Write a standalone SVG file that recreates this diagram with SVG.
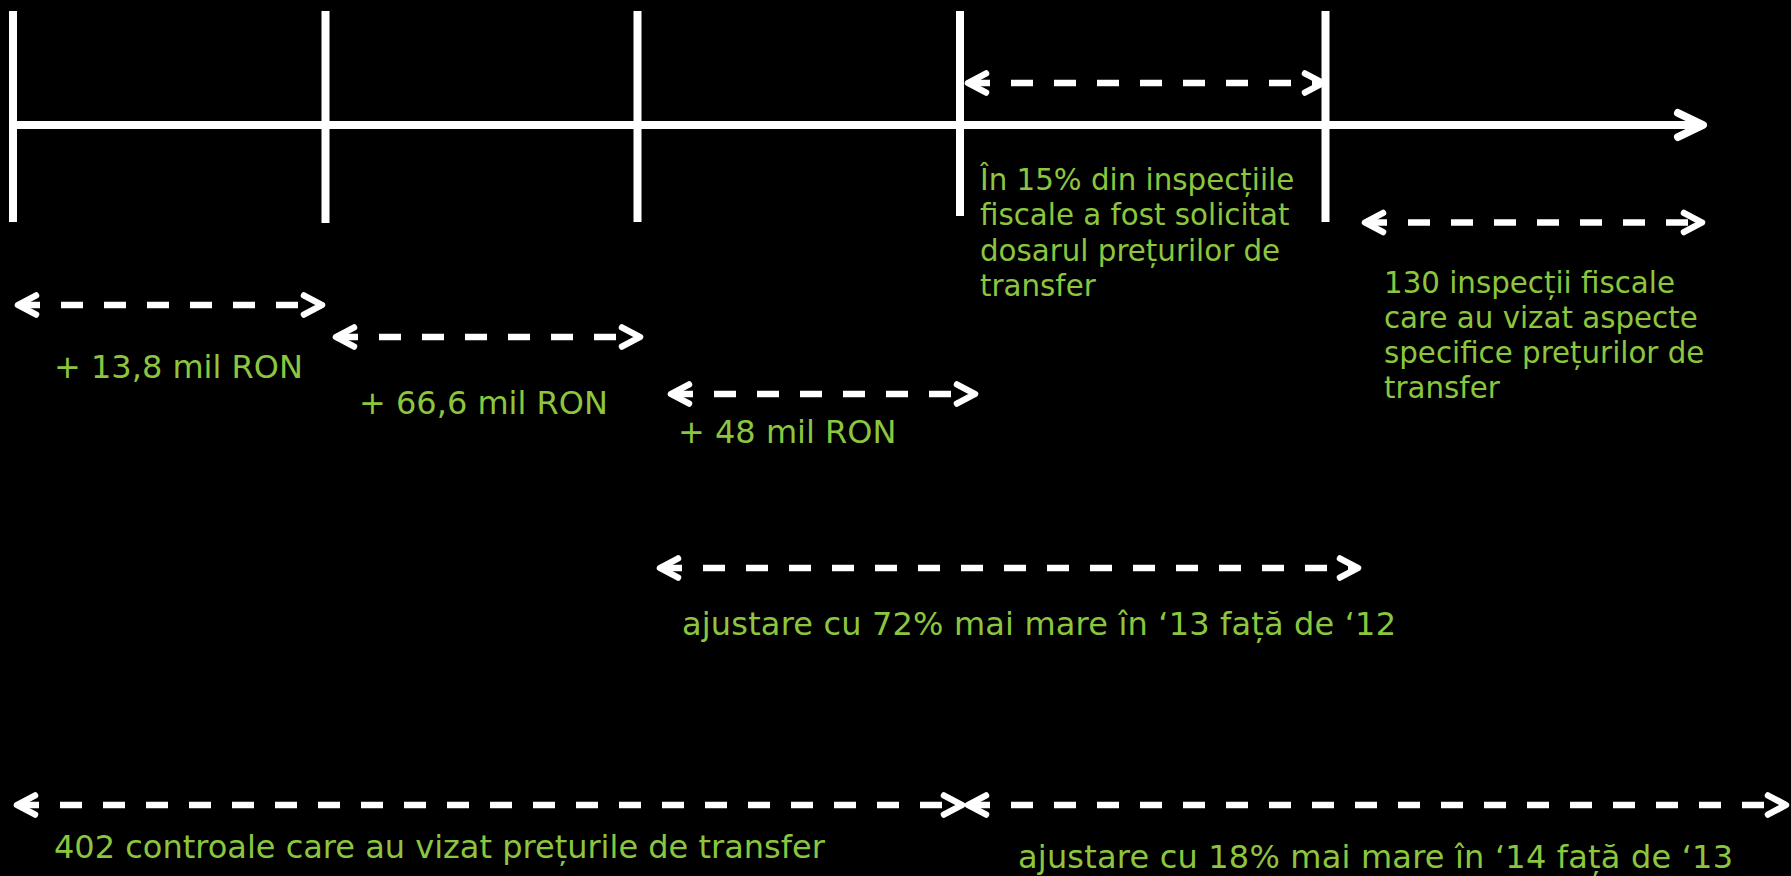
<svg xmlns="http://www.w3.org/2000/svg" width="1791" height="876" viewBox="0 0 1791 876">
  <style>
    .tick { stroke: #FFFFFF; stroke-width: 8; fill: none; }
    .axis { stroke: #FFFFFF; stroke-width: 8; fill: none; }
    .span { stroke: #FFFFFF; stroke-width: 6.5; fill: none; stroke-dasharray: 22 21; marker-start: url(#chevS); marker-end: url(#chevE); }
    .lbl { font-family: "DejaVu Sans", Verdana, sans-serif; font-size: 32px; fill: #8CC63E; }
    .blk { font-size: 29.3px; }
  </style>
  <defs>
    <marker id="chevE" markerUnits="userSpaceOnUse" orient="auto" refX="0" refY="0" markerWidth="40" markerHeight="40" viewBox="-30 -20 40 40" overflow="visible">
      <path d="M -18 -9.5 L 0 0 L -18 9.5" fill="none" stroke="#FFFFFF" stroke-width="6.5" stroke-linecap="round" stroke-linejoin="round"/>
    </marker>
    <marker id="chevS" markerUnits="userSpaceOnUse" orient="auto-start-reverse" refX="0" refY="0" markerWidth="40" markerHeight="40" viewBox="-30 -20 40 40" overflow="visible">
      <path d="M -18 -9.5 L 0 0 L -18 9.5" fill="none" stroke="#FFFFFF" stroke-width="6.5" stroke-linecap="round" stroke-linejoin="round"/>
    </marker>
    <marker id="axisHead" markerUnits="userSpaceOnUse" orient="auto" refX="0" refY="0" markerWidth="50" markerHeight="50" viewBox="-40 -25 50 50" overflow="visible">
      <path d="M -25 -12 L 0 0 L -25 12" fill="none" stroke="#FFFFFF" stroke-width="8" stroke-linecap="round" stroke-linejoin="round"/>
    </marker>
  </defs>
  <rect x="0" y="0" width="1791" height="876" fill="#000000"/>

  <g id="timeline">
    <line class="axis" x1="13" y1="125" x2="1703" y2="125" marker-end="url(#axisHead)"/>
    <line class="tick" x1="13" y1="11" x2="13" y2="222"/>
    <line class="tick" x1="325.5" y1="11" x2="325.5" y2="223"/>
    <line class="tick" x1="637.5" y1="11" x2="637.5" y2="222"/>
    <line class="tick" x1="960" y1="11" x2="960" y2="216"/>
    <line class="tick" x1="1325.5" y1="11" x2="1325.5" y2="222"/>
  </g>

  <g id="connectors">
    <line class="span" x1="18" y1="305" x2="322" y2="305"/>
    <line class="span" x1="336" y1="337" x2="640" y2="337"/>
    <line class="span" x1="671" y1="394" x2="975" y2="394"/>
    <line class="span" x1="968" y1="83" x2="1323" y2="83"/>
    <line class="span" x1="1365" y1="222.5" x2="1702" y2="222.5"/>
    <line class="span" x1="660" y1="568" x2="1358" y2="568"/>
    <line class="span" x1="17" y1="805" x2="962" y2="805"/>
    <line class="span" x1="968" y1="805" x2="1786" y2="805"/>
  </g>

  <g id="label-13-8">
    <text class="lbl" x="54" y="378">+ 13,8 mil RON</text>
  </g>
  <g id="label-66-6">
    <text class="lbl" x="359" y="414">+ 66,6 mil RON</text>
  </g>
  <g id="label-48">
    <text class="lbl" x="678" y="443">+ 48 mil RON</text>
  </g>
  <g id="label-15pct">
    <text class="lbl blk" x="980" y="190">În 15% din inspecțiile</text>
    <text class="lbl blk" x="980" y="225">fiscale a fost solicitat</text>
    <text class="lbl blk" x="980" y="260.5">dosarul prețurilor de</text>
    <text class="lbl blk" x="980" y="295.5">transfer</text>
  </g>
  <g id="label-130">
    <text class="lbl blk" x="1384" y="292.5">130 inspecții fiscale</text>
    <text class="lbl blk" x="1384" y="328">care au vizat aspecte</text>
    <text class="lbl blk" x="1384" y="363">specifice prețurilor de</text>
    <text class="lbl blk" x="1384" y="397.5">transfer</text>
  </g>
  <g id="label-72pct">
    <text class="lbl" x="682" y="635" textLength="714" lengthAdjust="spacing">ajustare cu 72% mai mare în ‘13 față de ‘12</text>
  </g>
  <g id="label-402">
    <text class="lbl" x="54" y="858">402 controale care au vizat prețurile de transfer</text>
  </g>
  <g id="label-18pct">
    <text class="lbl" x="1018" y="868" textLength="715" lengthAdjust="spacing">ajustare cu 18% mai mare în ‘14 față de ‘13</text>
  </g>
</svg>
